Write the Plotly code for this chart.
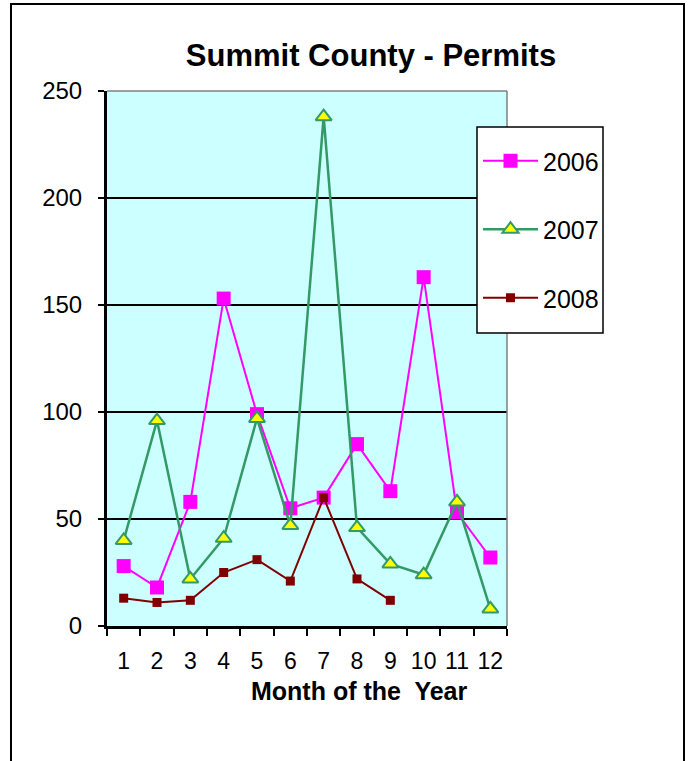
import plotly.graph_objects as go

months = [str(m) for m in range(1, 13)]
permits_2006 = [28, 18, 58, 153, 99, 55, 60, 85, 63, 163, 53, 32]
permits_2007 = [40, 96, 22, 41, 97, 47, 238, 46, 29, 24, 58, 8]
permits_2008 = [13, 11, 12, 25, 31, 21, 60, 22, 12]
y_ticks = [0, 50, 100, 150, 200, 250]

W, H = 693, 761
L, R, T, B = 107, 507, 91, 626  # plot area box in page pixels

def px_x(px):
    return (px - L) / (R - L)

def px_y(py):
    return (B - py) / (B - T)

font_family = "Liberation Sans, Arial, sans-serif"

fig = go.Figure()
fig.add_trace(go.Scatter(
    x=months, y=permits_2006, name="2006", mode="lines+markers",
    legendgroup="a",
    line=dict(color="#FF00FF", width=2),
    marker=dict(symbol="square", size=14, color="#FF00FF"),
))
fig.add_trace(go.Scatter(
    x=months, y=permits_2007, name="2007", mode="lines+markers",
    legendgroup="b",
    line=dict(color="#339966", width=2.5),
    marker=dict(symbol="triangle-up", size=14, color="#FFFF00",
                line=dict(color="#339966", width=2)),
))
fig.add_trace(go.Scatter(
    x=months[:len(permits_2008)], y=permits_2008, name="2008", mode="lines+markers",
    legendgroup="c",
    line=dict(color="#800000", width=2),
    marker=dict(symbol="square", size=9, color="#800000"),
))

fig.update_layout(
    width=W, height=H,
    margin=dict(l=L, r=W - R, t=T, b=H - B, pad=0),
    paper_bgcolor="white",
    plot_bgcolor="#CCFFFF",
    font=dict(family=font_family, size=24, color="black"),
    showlegend=True,
    legend=dict(
        x=px_x(478), y=px_y(138), xanchor="left", yanchor="top",
        bgcolor="rgba(0,0,0,0)", borderwidth=0,
        font=dict(size=25), traceorder="grouped", tracegroupgap=33,
        itemwidth=55,
    ),
    title=dict(
        text="<b>Summit County - Permits</b>",
        x=px_x(371), xref="paper", xanchor="center",
        y=1 - 55 / H, yref="container", yanchor="middle",
        font=dict(size=31, family=font_family),
    ),
)

fig.update_xaxes(
    type="category", categoryorder="array", categoryarray=months,
    range=[-0.5, len(months) - 0.5],
    tickson="boundaries", ticks="outside", ticklen=7, tickwidth=2, tickcolor="black",
    showline=True, linecolor="black", linewidth=2.5,
    showgrid=False, zeroline=False,
    tickangle=0, ticklabelstandoff=13,
    tickfont=dict(size=23),
)
fig.update_yaxes(
    range=[0, 250], tickvals=y_ticks,
    ticks="outside", ticklen=6, tickwidth=2, tickcolor="black",
    showline=True, linecolor="black", linewidth=3,
    showgrid=True, gridcolor="black", gridwidth=2,
    zeroline=False,
    ticklabelstandoff=11,
    tickfont=dict(size=24),
)

# plot area top/right border (grey)
fig.add_shape(type="line", xref="paper", yref="paper", x0=0, x1=1, y0=1, y1=1,
              line=dict(color="#808080", width=1.5), layer="above")
fig.add_shape(type="line", xref="paper", yref="paper", x0=1, x1=1, y0=0, y1=1,
              line=dict(color="#808080", width=1.5), layer="above")

# legend box
fig.add_shape(type="rect", xref="paper", yref="paper",
              x0=px_x(477), x1=px_x(603), y0=px_y(333), y1=px_y(127),
              line=dict(color="black", width=1.5), fillcolor="white", layer="above")

# outer chart border
fig.add_shape(type="rect", xref="paper", yref="paper",
              x0=px_x(11), x1=px_x(684), y0=px_y(775), y1=px_y(4),
              line=dict(color="black", width=2), fillcolor="rgba(0,0,0,0)", layer="above")

# x-axis title
fig.add_annotation(
    text="<b>Month of the  Year</b>", xref="paper", yref="paper",
    x=px_x(359), y=px_y(691), xanchor="center", yanchor="middle",
    showarrow=False, font=dict(size=25, family=font_family),
)

fig.write_html("out.html", config={"displayModeBar": False},
               post_script="document.body.style.margin='0';")
